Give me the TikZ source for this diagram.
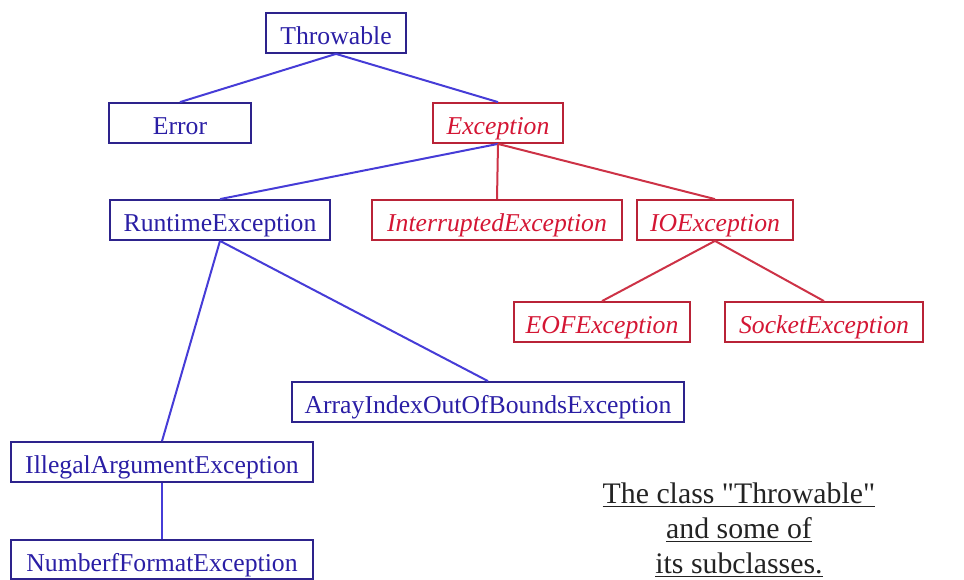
\documentclass[tikz,border=0pt]{standalone}
\usepackage{fontspec}
\setmainfont{Liberation Serif}
% plain family without TeX ligature mapping, so " stays a straight quote
\newfontfamily\capfont{Liberation Serif}
\definecolor{bluetxt}{RGB}{42,30,165}
\definecolor{blueline}{RGB}{45,35,140}
\definecolor{blueedge}{RGB}{70,60,215}
\definecolor{redtxt}{RGB}{212,22,52}
\definecolor{redline}{RGB}{185,35,55}
\definecolor{redge}{RGB}{205,50,70}
\definecolor{captxt}{RGB}{35,35,35}
\begin{document}
\begin{tikzpicture}[x=1pt,y=-1pt,
  box/.style={draw, line width=1.8pt, rectangle, minimum height=40pt,
    inner sep=0pt, text height=24pt, text depth=1pt},
  bnode/.style={box, draw=blueline, text=bluetxt,
    font=\fontsize{25.7}{30}\selectfont},
  rnode/.style={box, draw=redline, text=redtxt,
    font=\fontsize{25.7}{30}\selectfont\itshape},
  bedge/.style={draw=blueedge, line width=2pt},
  redgestyle/.style={draw=redge, line width=2pt},
  captext/.style={inner sep=0pt, anchor=base, text=captxt,
    font=\capfont\fontsize{29.8}{35}\selectfont},
  uline/.style={draw=captxt, line width=1.5pt}]
\useasboundingbox (0,0) rectangle (964,579);

% class boxes
\node[bnode, minimum width=140pt] (thr) at (336,33)    {Throwable};
\node[bnode, minimum width=142pt] (err) at (180,123)   {Error};
\node[rnode, minimum width=130pt] (exc) at (498,123)   {Exception};
\node[bnode, minimum width=220pt] (rte) at (220,220)   {RuntimeException};
\node[rnode, minimum width=250pt] (int) at (497,220)   {InterruptedException};
\node[rnode, minimum width=156pt] (ioe) at (715,220)   {IOException};
\node[rnode, minimum width=176pt] (eof) at (602,322)   {EOFException};
\node[rnode, minimum width=198pt] (soc) at (824,322)   {SocketException};
\node[bnode, minimum width=392pt] (arr) at (488,402)   {ArrayIndexOutOfBoundsException};
\node[bnode, minimum width=302pt] (ill) at (162,462)   {IllegalArgumentException};
\node[bnode, minimum width=302pt, minimum height=39pt] (num) at (162,559.5) {NumberfFormatException};

% inheritance links
\draw[bedge] (thr.south) -- (err.north);
\draw[bedge] (thr.south) -- (exc.north);
\draw[bedge] (exc.south) -- (rte.north);
\draw[redgestyle] (exc.south) -- (int.north);
\draw[redgestyle] (exc.south) -- (ioe.north);
\draw[redgestyle] (ioe.south) -- (eof.north);
\draw[redgestyle] (ioe.south) -- (soc.north);
\draw[bedge] (rte.south) -- (ill.north);
\draw[bedge] (rte.south) -- (arr.north);
\draw[bedge] (ill.south) -- (num.north);

% caption
\node[captext] (cap1) at (739,503) {The class "Throwable"};
\node[captext] (cap2) at (739,538) {and some of};
\node[captext] (cap3) at (739,573) {its subclasses.};
\foreach \c in {cap1,cap2,cap3}
  \draw[uline] ([yshift=-3.5pt]\c.base west) -- ([yshift=-3.5pt]\c.base east);
\end{tikzpicture}
\end{document}
